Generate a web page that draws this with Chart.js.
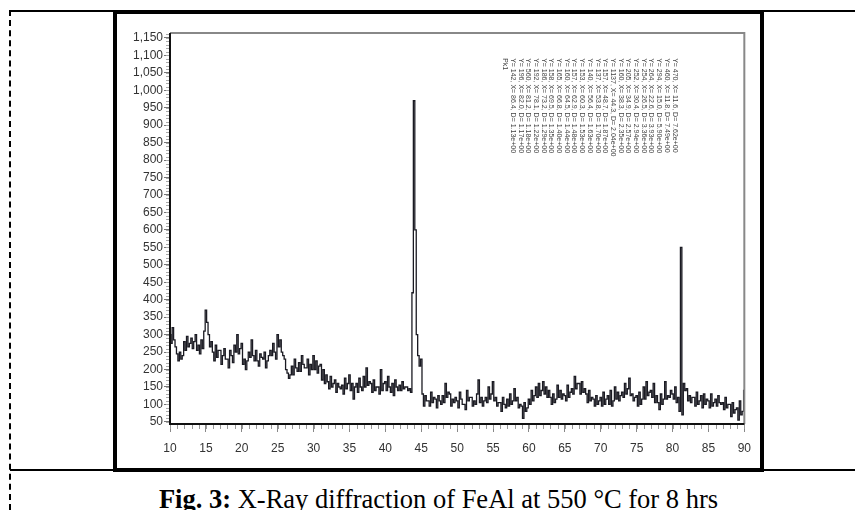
<!DOCTYPE html>
<html>
<head>
<meta charset="utf-8">
<script src="https://cdn.jsdelivr.net/npm/chart.js@4.4.1/dist/chart.umd.min.js"></script>
<style>
body{margin:0;width:855px;height:510px;background:#fff;overflow:hidden;position:relative}
.line{position:absolute;background:#000}
#frame{position:absolute;left:113px;top:10px;width:651px;height:462px;border:4px solid #000;box-sizing:border-box}
#box{position:absolute;left:117px;top:14px;width:643px;height:454px}
#caption{position:absolute;left:16px;width:845px;top:484px;text-align:center;font-family:"Liberation Serif","Times New Roman",serif;font-size:26.5px;color:#000;white-space:nowrap}
</style>
</head>
<body>
<div class="line" style="left:10px;top:10px;width:845px;height:2px"></div>
<div style="position:absolute;left:9px;top:10px;height:500px;border-left:2px dashed #000"></div>
<div class="line" style="left:10px;top:469px;width:845px;height:2px"></div>
<div id="frame"></div>
<div id="box"><canvas id="myChart"></canvas></div>
<div id="caption"><b>Fig. 3:</b> X-Ray diffraction of FeAl at 550 °C for 8 hrs</div>
<script>
// 2θ 从10到90, 步长0.2
const twoTheta = []
for (let i = 0; i <= 400; i++) twoTheta.push(Math.round((10 + i * 0.2) * 10) / 10)
// 强度, 每组一度(5个点)
const intensity = [
300,275,320,285,265, 245,225,250,230,240, 280,255,295,265,275, 290,260,280,300,255, 270,245,285,260,310,
370,335,300,265,280, 250,225,270,235,255, 255,215,240,260,230, 230,205,255,240,220, 270,250,300,245,260,
275,215,230,200,225, 250,235,285,240,225, 255,225,210,245,235, 230,250,205,225,240, 255,240,275,250,230,
300,265,285,250,240, 230,200,190,175,185, 210,185,230,205,195, 220,195,240,215,205, 205,230,185,215,200,
240,200,225,190,210, 215,170,200,160,185, 165,145,180,150,160, 170,135,160,150,145, 155,130,175,145,160,
185,140,160,115,150, 160,135,175,150,140, 180,150,205,155,165, 160,135,170,140,150, 150,130,200,140,160,
165,140,180,150,135, 160,125,170,150,140, 155,140,165,145,150, 150,140,145,135,420, 970,600,300,240,210,
230,130,95,125,110, 110,95,135,105,120, 115,90,125,110,100, 125,105,160,120,135, 130,95,115,105,120,
110,90,135,115,100, 100,85,140,110,120, 120,95,110,100,130, 170,105,120,95,110, 120,105,150,115,130,
165,110,120,95,105, 105,80,120,100,90, 115,95,130,100,110, 145,110,120,90,100, 95,60,105,80,90,
115,100,140,110,125, 150,120,160,125,140, 165,130,150,120,140, 120,100,130,105,115, 155,120,140,115,130,
125,110,155,120,135, 145,130,180,145,160, 160,130,165,135,145, 130,105,140,110,120, 115,95,125,100,110,
120,95,135,100,115, 125,100,140,95,110, 150,115,135,110,125, 135,120,160,130,145, 175,125,130,110,120,
125,95,135,100,115, 150,115,165,125,135, 140,120,160,105,125, 105,85,130,100,115, 165,115,125,120,140,
130,115,150,105,120, 80,550,70,160,140, 145,110,125,105,120, 120,95,135,100,110, 125,90,130,100,115,
110,90,130,95,105, 115,95,125,105,100, 105,85,120,90,100, 100,65,105,75,85, 90,55,110,70,80,
140
]
const xTicks = [10,15,20,25,30,35,40,45,50,55,60,65,70,75,80,85,90]
const yTicks = [50,100,150,200,250,300,350,400,450,500,550,600,650,700,750,800,850,900,950,1000,1050,1100,1150]
const yLabels = ["50","100","150","200","250","300","350","400","450","500","550","600","650","700","750","800","850","900","950","1,000","1,050","1,100","1,150"]
// 峰值列表 (旋转的小字)
const peakList = [
"Y= 470, X= 11.6, D= 7.62e+00",
"Y= 460, X= 11.8, D= 7.49e+00",
"Y= 294, X= 15.0, D= 5.90e+00",
"Y= 264, X= 22.6, D= 3.93e+00",
"Y= 254, X= 26.5, D= 3.36e+00",
"Y= 252, X= 30.4, D= 2.94e+00",
"Y= 205, X= 34.9, D= 2.57e+00",
"Y= 160, X= 38.3, D= 2.35e+00",
"Y= 1137, X= 44.3, D= 2.04e+00",
"Y= 157, X= 48.7, D= 1.87e+00",
"Y= 137, X= 53.8, D= 1.70e+00",
"Y= 140, X= 56.4, D= 1.63e+00",
"Y= 153, X= 60.3, D= 1.53e+00",
"Y= 157, X= 62.9, D= 1.48e+00",
"Y= 160, X= 64.5, D= 1.44e+00",
"Y= 165, X= 66.8, D= 1.40e+00",
"Y= 158, X= 69.5, D= 1.35e+00",
"Y= 186, X= 73.2, D= 1.29e+00",
"Y= 192, X= 78.1, D= 1.22e+00",
"Y= 560, X= 81.2, D= 1.18e+00",
"Y= 196, X= 82.0, D= 1.17e+00",
"Y= 142, X= 86.4, D= 1.13e+00",
"Pk1"
]

// 边框和小刻度
const extras = {
  id: "extras",
  afterDatasetsDraw(chart) {
    const c = chart.ctx
    const a = chart.chartArea
    const x = chart.scales.x
    const y = chart.scales.y
    c.save()
    // 上边和右边 灰色
    c.strokeStyle = "#888"
    c.lineWidth = 2
    c.beginPath()
    c.moveTo(a.left, a.top); c.lineTo(a.right, a.top); c.lineTo(a.right, a.bottom)
    c.stroke()
    // x 小刻度
    c.strokeStyle = "#999"
    c.lineWidth = 1
    c.beginPath()
    for (let v = 10; v <= 90; v++) {
      const px = Math.round(x.getPixelForValue(v)) + 0.5
      c.moveTo(px, a.bottom); c.lineTo(px, a.bottom + 5)
    }
    c.stroke()
    // y 小刻度
    c.strokeStyle = "#aaa"
    c.beginPath()
    for (let v = 50; v <= 1160; v += 10) {
      const py = Math.round(y.getPixelForValue(v)) + 0.5
      c.moveTo(a.left - 4, py); c.lineTo(a.left, py)
    }
    c.stroke()
    // 左边和下边 黑色
    c.strokeStyle = "#111"
    c.lineWidth = 2
    c.beginPath()
    c.moveTo(a.left, a.top); c.lineTo(a.left, a.bottom); c.lineTo(a.right, a.bottom)
    c.stroke()
    // 旋转的峰值表
    c.fillStyle = "#444"
    c.font = "7px 'Liberation Sans', Arial, sans-serif"
    const x0 = x.getPixelForValue(80)
    const y0 = y.getPixelForValue(1092)
    for (let i = 0; i < peakList.length; i++) {
      c.save()
      c.translate(x0 - i * 7.7, y0)
      c.rotate(Math.PI / 2)
      c.fillText(peakList[i], 0, 0)
      c.restore()
    }
    c.restore()
  }
}

const ctx = document.getElementById("myChart").getContext("2d")
new Chart(ctx, {
  type: "line",
  data: {
    labels: twoTheta,
    datasets: [{
      data: intensity.map((v, i) => ({x: twoTheta[i], y: v})),
      borderColor: "#1a1a22",
      borderWidth: 1.3,
      pointRadius: 0,
      stepped: "middle",
      fill: false
    }]
  },
  options: {
    responsive: true,
    maintainAspectRatio: false,
    animation: false,
    layout: {padding: {top: 19, right: 8, left: 0, bottom: 0}},
    plugins: {legend: {display: false}, tooltip: {enabled: false}},
    scales: {
      x: {
        type: "linear",
        min: 10,
        max: 90,
        afterBuildTicks: s => { s.ticks = xTicks.map(v => ({value: v})) },
        afterFit: s => { s.height = 44 },
        grid: {drawOnChartArea: false, tickLength: 8, color: "#888"},
        border: {display: false},
        ticks: {
          padding: 9,
          color: "#333",
          font: {family: "'Liberation Sans', Arial, sans-serif", size: 12},
          maxRotation: 0,
          callback: v => String(v)
        }
      },
      y: {
        type: "linear",
        min: 44,
        max: 1164,
        afterBuildTicks: s => { s.ticks = yTicks.map(v => ({value: v})) },
        afterFit: s => { s.width = 53 },
        grid: {drawOnChartArea: false, tickLength: 6, color: "#777"},
        border: {display: false},
        ticks: {
          padding: 1,
          color: "#333",
          font: {family: "'Liberation Sans', Arial, sans-serif", size: 12},
          callback: v => yLabels[yTicks.indexOf(v)]
        }
      }
    }
  },
  plugins: [extras]
})
</script>
</body>
</html>
